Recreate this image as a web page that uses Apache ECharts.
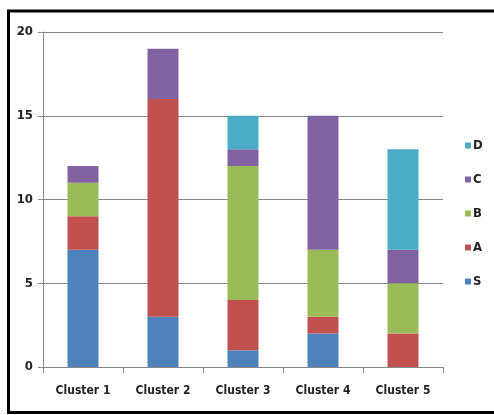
<!DOCTYPE html>
<html>
<head>
<meta charset="utf-8">
<script src="https://cdn.jsdelivr.net/npm/echarts@6/dist/echarts.min.js"></script>
<style>
  html, body { margin: 0; padding: 0; background: #fff; }
  #chart { width: 494px; height: 415px; }
</style>
</head>
<body>
<div id="chart"></div>
<script>
// Categories and stacked segment values
var categories = ['Cluster 1', 'Cluster 2', 'Cluster 3', 'Cluster 4', 'Cluster 5'];
var seriesNames = ['S', 'A', 'B', 'C', 'D'];
var valuesS = [7, 3, 1, 2, 0];
var valuesA = [2, 13, 3, 1, 2];
var valuesB = [2, 0, 8, 4, 3];
var valuesC = [1, 3, 1, 8, 2];
var valuesD = [0, 0, 2, 0, 6];
var yTicks = [0, 5, 10, 15, 20];

var seriesValues = [valuesS, valuesA, valuesB, valuesC, valuesD];
var colors = ['#4F81BD', '#C0504D', '#9BBB59', '#8064A2', '#4BACC6'];
var font = '"DejaVu Sans Condensed", "Liberation Sans", Arial, sans-serif';

var chart = echarts.init(document.getElementById('chart'), null, { renderer: 'canvas' });

var series = seriesNames.map(function (name, i) {
  return {
    name: name,
    type: 'bar',
    stack: 'total',
    data: seriesValues[i],
    barWidth: 31,
    itemStyle: { color: colors[i] }
  };
});

chart.setOption({
  animation: false,
  backgroundColor: '#fff',
  graphic: [{
    type: 'rect',
    shape: { x: 8.5, y: 11, width: 494, height: 401.5 },
    style: { fill: 'none', stroke: '#000', lineWidth: 3 },
    silent: true
  }],
  grid: { left: 43, right: 51, top: 32, bottom: 48, containLabel: false },
  legend: {
    orient: 'vertical',
    left: 465,
    top: 139,
    padding: 0,
    data: ['D', 'C', 'B', 'A', 'S'],
    itemWidth: 6,
    itemHeight: 6,
    itemGap: 21,
    icon: 'rect',
    textStyle: { fontFamily: font, fontSize: 13, fontWeight: 'bold', color: '#222', padding: [0, 0, 0, -3] }
  },
  xAxis: {
    type: 'category',
    data: categories,
    axisLine: { lineStyle: { color: '#868686', width: 1 } },
    axisTick: { show: true, length: 6, lineStyle: { color: '#868686' } },
    axisLabel: { fontFamily: font, fontSize: 12, fontWeight: 'bold', color: '#222', margin: 18 }
  },
  yAxis: {
    type: 'value',
    min: yTicks[0],
    max: yTicks[yTicks.length - 1],
    interval: 5,
    axisLine: { show: true, lineStyle: { color: '#868686', width: 1 } },
    axisTick: { show: true, length: 5, inside: false, lineStyle: { color: '#868686' } },
    axisLabel: { fontFamily: font, fontSize: 13, fontWeight: 'bold', color: '#222', margin: 10 },
    splitLine: { show: true, lineStyle: { color: '#868686', width: 1 } }
  },
  series: series
});
</script>
</body>
</html>
